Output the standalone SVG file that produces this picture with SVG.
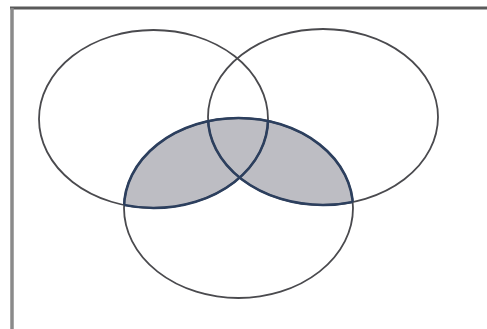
<svg xmlns="http://www.w3.org/2000/svg" width="487" height="329" viewBox="0 0 487 329">
<style>
.set{fill:none;stroke:#4a4a4e;stroke-width:1.8}
.hl{fill:none;stroke:#2c3f5e;stroke-width:2.6}
.shade{fill:#bdbdc3;stroke:none}
</style>
<defs>
<clipPath id="clipA"><ellipse cx="153.5" cy="119" rx="114.5" ry="89"/></clipPath>
<clipPath id="clipB"><ellipse cx="323" cy="117" rx="115" ry="88"/></clipPath>
<clipPath id="clipAB"><ellipse cx="153.5" cy="119" rx="114.5" ry="89"/><ellipse cx="323" cy="117" rx="115" ry="88"/></clipPath>
<clipPath id="clipC"><ellipse cx="238.5" cy="208" rx="114.5" ry="90"/></clipPath>
</defs>
<rect x="0" y="0" width="487" height="329" fill="#ffffff"/>
<g id="frame">
<line x1="10" y1="8" x2="487" y2="8" stroke="#5a5a5a" stroke-width="3"/>
<line x1="12" y1="8" x2="12" y2="329" stroke="#8a8a8a" stroke-width="3.5"/>
</g>
<g id="shaded-region">
<ellipse class="shade" cx="238.5" cy="208" rx="114.5" ry="90" clip-path="url(#clipAB)"/>
</g>
<g id="set-A"><ellipse class="set" cx="153.5" cy="119" rx="114.5" ry="89"/></g>
<g id="set-B"><ellipse class="set" cx="323" cy="117" rx="115" ry="88"/></g>
<g id="set-C"><ellipse class="set" cx="238.5" cy="208" rx="114.5" ry="90"/></g>
<g id="shaded-outline">
<ellipse class="hl" cx="238.5" cy="208" rx="114.5" ry="90" clip-path="url(#clipAB)"/>
<ellipse class="hl" cx="153.5" cy="119" rx="114.5" ry="89" clip-path="url(#clipC)"/>
<ellipse class="hl" cx="323" cy="117" rx="115" ry="88" clip-path="url(#clipC)"/>
</g>
</svg>
